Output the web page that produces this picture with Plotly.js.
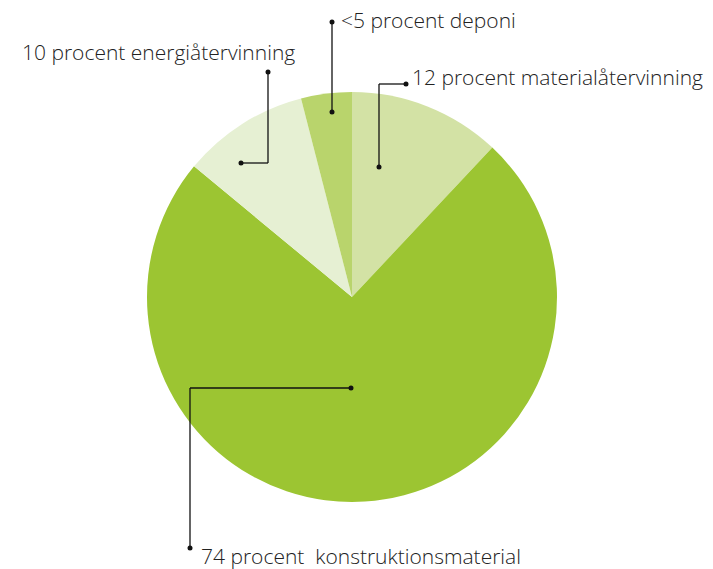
<!DOCTYPE html>
<html>
<head>
<meta charset="utf-8">
<script src="https://cdn.plot.ly/plotly-3.0.1.min.js"></script>
<style>html,body{margin:0;padding:0;background:#fff;}#chart{width:713px;height:569px;}</style>
</head>
<body>
<div id="chart"></div>
<script>
const categories = ["materialåtervinning", "konstruktionsmaterial", "energiåtervinning", "deponi"];
const values = [12, 74, 10, 4];
const labelTexts = ["12 procent materialåtervinning", "74 procent  konstruktionsmaterial", "10 procent energiåtervinning", "<5 procent deponi"];
const colors = ["#d3e2a5", "#9cc532", "#e6f0d3", "#b9d46c"];

const W = 713, H = 569;
const px = x => x / W;
const py = y => 1 - y / H;

const cx = 352, cy = 297, r = 205;

// leader paths in pixels (label anchor -> slice)
const leaders = [
  {pts: [[406, 84], [379, 84], [379, 167]], label: [410, 77]},
  {pts: [[190, 548], [190, 388], [351, 388]], label: [199, 556]},
  {pts: [[268, 72], [268, 163], [241, 163]], label: [20, 52]},
  {pts: [[332, 22], [332, 112]], label: [339, 20]}
];

const shapes = [];
const annotations = [];
leaders.forEach((l, i) => {
  for (let k = 0; k < l.pts.length - 1; k++) {
    shapes.push({type: 'line', xref: 'paper', yref: 'paper',
      x0: px(l.pts[k][0]), y0: py(l.pts[k][1]), x1: px(l.pts[k+1][0]), y1: py(l.pts[k+1][1]),
      line: {color: '#111', width: 1.3}});
  }
  [l.pts[0], l.pts[l.pts.length - 1]].forEach(p => {
    shapes.push({type: 'circle', xref: 'paper', yref: 'paper',
      x0: px(p[0] - 2.5), x1: px(p[0] + 2.5), y0: py(p[1] + 2.5), y1: py(p[1] - 2.5),
      fillcolor: '#111', line: {width: 0}});
  });
  annotations.push({xref: 'paper', yref: 'paper', x: px(l.label[0]), y: py(l.label[1]),
    xanchor: 'left', yanchor: 'middle', showarrow: false, text: labelTexts[i],
    font: {family: 'Open Sans, sans-serif', size: 21, weight: 300, color: '#222'}});
});

const data = [{
  type: 'pie',
  labels: categories,
  values: values,
  sort: false,
  direction: 'clockwise',
  rotation: 0,
  textinfo: 'none',
  hoverinfo: 'label+percent',
  marker: {colors: colors, line: {width: 0}},
  domain: {x: [px(cx - r), px(cx + r)], y: [py(cy + r), py(cy - r)]},
  showlegend: false
}];

const layout = {
  width: W, height: H,
  margin: {l: 0, r: 0, t: 0, b: 0},
  paper_bgcolor: '#fff',
  showlegend: false,
  shapes: shapes,
  annotations: annotations
};

Plotly.newPlot('chart', data, layout, {displayModeBar: false, staticPlot: true});
</script>
</body>
</html>
